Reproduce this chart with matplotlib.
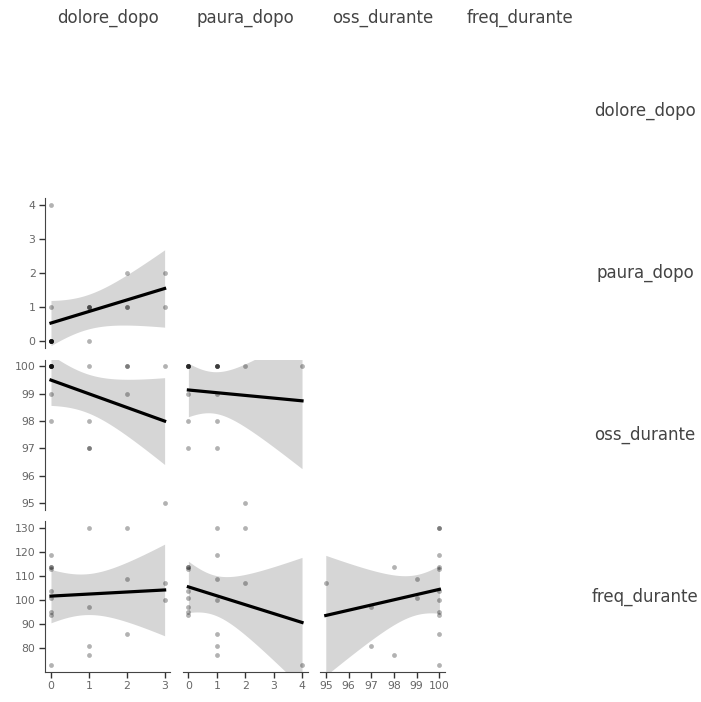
import numpy as np
import matplotlib
matplotlib.use("Agg")
import matplotlib.pyplot as plt

plt.rcParams['font.family'] = ['DejaVu Sans']

# one row per patient
dolore_dopo = [3, 1, 1, 0, 1, 2, 0, 1, 2, 0, 0, 0, 0, 3, 0, 0, 2, 0]
paura_dopo = [2, 0, 1, 0, 1, 1, 0, 1, 2, 1, 0, 0, 0, 1, 0, 0, 1, 4]
oss_durante = [95, 97, 97, 98, 98, 99, 99, 100, 100, 100, 100, 100, 100, 100, 100, 100, 100, 100]
freq_durante = [107, 97, 81, 114, 77, 109, 101, 130, 130, 119, 114, 113, 104, 100, 95, 94, 86, 73]

names = ['dolore_dopo', 'paura_dopo', 'oss_durante', 'freq_durante']
cols = [dolore_dopo, paura_dopo, oss_durante, freq_durante]
ticks = {
    'dolore_dopo': [0, 1, 2, 3],
    'paura_dopo': [0, 1, 2, 3, 4],
    'oss_durante': [95, 96, 97, 98, 99, 100],
    'freq_durante': [80, 90, 100, 110, 120, 130],
}

# 97.5% quantile of Student t with n-2 = 16 degrees of freedom
T_CRIT = 2.1199


def lm_band(x, y, grid):
    x = np.asarray(x, float)
    y = np.asarray(y, float)
    slope, icpt = np.polyfit(x, y, 1)
    fit = icpt + slope * grid
    resid = y - (icpt + slope * x)
    s = np.sqrt((resid ** 2).sum() / (len(x) - 2))
    sxx = ((x - x.mean()) ** 2).sum()
    se = s * np.sqrt(1 / len(x) + (grid - x.mean()) ** 2 / sxx)
    return fit, fit - T_CRIT * se, fit + T_CRIT * se


def lims(v):
    lo, hi = min(v), max(v)
    pad = (hi - lo) * 0.05
    return lo - pad, hi + pad


W, H = 701, 702
fig = plt.figure(figsize=(W / 100, H / 100), dpi=100)

left0, dx = 45.3, 137.4
top0, dy = 36.0, 161.8
aw, ah = 125.0, 150.3

n = len(names)
for i in range(n):
    for j in range(n):
        if j >= i:
            continue
        x0 = left0 + j * dx
        y0 = top0 + i * dy
        ax = fig.add_axes([x0 / W, 1 - (y0 + ah) / H, aw / W, ah / H])
        xv, yv = cols[j], cols[i]
        ax.scatter(xv, yv, s=12, color='black', alpha=0.3, linewidths=0, zorder=2)
        grid = np.linspace(min(xv), max(xv), 80)
        fit, lo, hi = lm_band(xv, yv, grid)
        ax.fill_between(grid, lo, hi, color='#999999', alpha=0.4, linewidth=0, zorder=1)
        ax.plot(grid, fit, color='black', lw=2.3, zorder=3)
        ax.set_xlim(*lims(xv))
        ax.set_ylim(*lims(yv))
        for s in ['top', 'right']:
            ax.spines[s].set_visible(False)
        ax.tick_params(labelsize=7.8, labelcolor='#666666', color='#333333',
                       length=4, width=1, direction='out', pad=3)
        if j == 0:
            ax.set_yticks(ticks[names[i]])
            ax.spines['left'].set_color('#444444')
        else:
            ax.spines['left'].set_visible(False)
            ax.set_yticks([])
        if i == n - 1:
            ax.set_xticks(ticks[names[j]])
            ax.spines['bottom'].set_color('#444444')
        else:
            ax.spines['bottom'].set_visible(False)
            ax.set_xticks([])

# column headers and row labels
for k, name in enumerate(names):
    cx = left0 + k * dx + aw / 2
    fig.text(cx / W, 1 - 18 / H, name, ha='center', va='center',
             fontsize=12, color='#444444')
    cy = top0 + k * dy + ah / 2
    fig.text(645 / W, 1 - cy / H, name, ha='center', va='center',
             fontsize=12, color='#444444')

fig.savefig('out.png', dpi=100)
